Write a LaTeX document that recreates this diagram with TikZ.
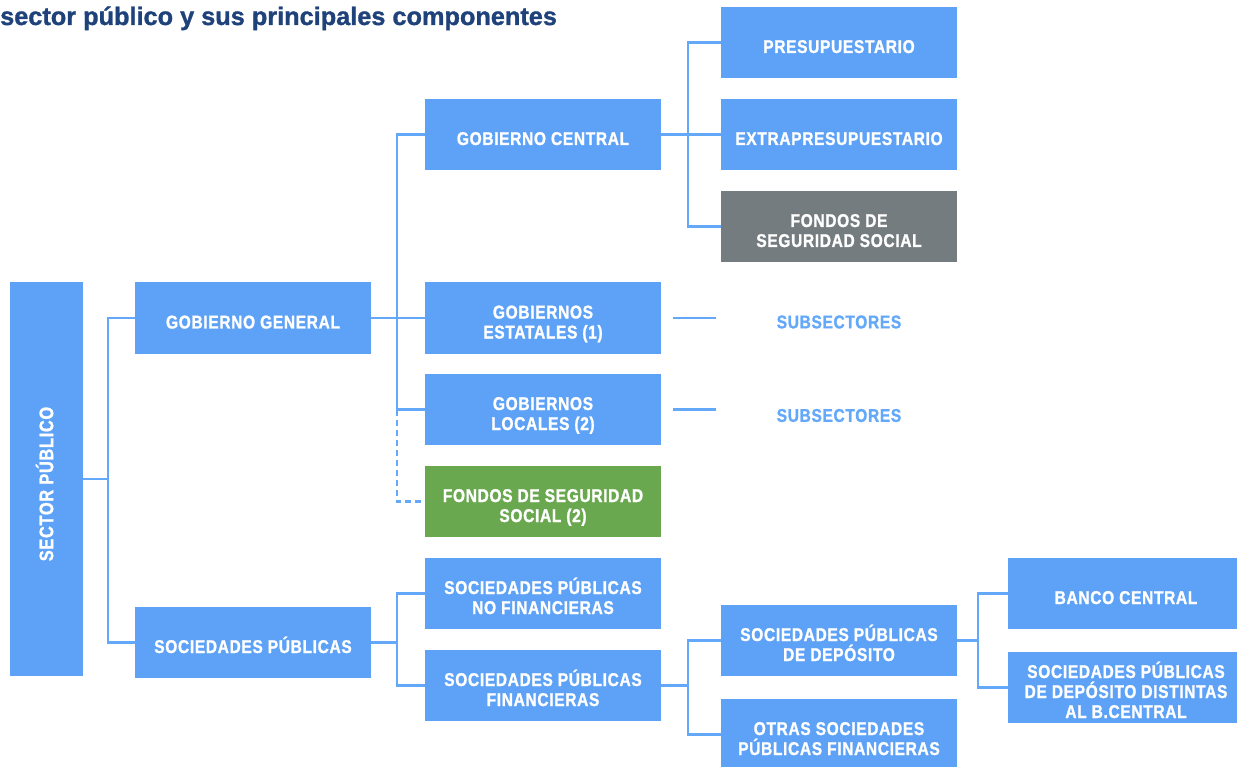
\documentclass[tikz,border=0pt]{standalone}
\usepackage{fontspec}
\setmainfont{Liberation Sans}[FakeStretch=0.84, LetterSpace=3.5, BoldFeatures={FakeBold=1.2}]
\newfontfamily\titlefont{Liberation Sans}[BoldFeatures={FakeBold=1.2}]
\newcommand\boxfont{\bfseries\fontsize{18.5}{20}\selectfont\lineskiplimit=-50pt}
\newcommand\secfont{\bfseries\fontsize{19.5}{20}\selectfont}
\newcommand\topstrut{\rule{0pt}{25pt}}
\newcommand\midstrut{\rule{0pt}{17pt}}
\newcommand\botstrut{\rule[-4pt]{0pt}{4pt}}
\definecolor{cblue}{RGB}{93,162,247}
\definecolor{lblue}{RGB}{100,168,250}
\definecolor{cgray}{RGB}{116,124,127}
\definecolor{cgreen}{RGB}{106,168,79}
\definecolor{ctitle}{RGB}{31,66,122}
\tikzset{
  box/.style={fill=cblue, text=white, font=\boxfont, minimum width=236, minimum height=71, inner sep=0, align=center},
  conn/.style={draw=lblue, line width=2.3},
  subtxt/.style={text=lblue, font=\boxfont, inner sep=0},
}
\begin{document}
\begin{tikzpicture}[x=1pt,y=-1pt]
\useasboundingbox (0,0) rectangle (1237,767);
\node[anchor=base west, inner sep=0, text=ctitle, font=\titlefont\bfseries\fontsize{25.3}{30}\selectfont] (title) at (0,25) {sector público y sus principales componentes};
% column 1
\node[box, font=\secfont, rotate=90, minimum width=394, minimum height=73] (sec) at (46.5,479) {\midstrut SECTOR PÚBLICO\botstrut\hspace{10pt}};
% column 2
\node[box] (gg) at (253,318) {\topstrut GOBIERNO GENERAL\botstrut};
\node[box] (sp) at (253,642.5) {\topstrut SOCIEDADES PÚBLICAS\botstrut};
% column 3
\node[box] (gc) at (543,134.5) {\topstrut GOBIERNO CENTRAL\botstrut};
\node[box] (ge) at (543,318) {\topstrut GOBIERNOS\\ESTATALES (1)\botstrut};
\node[box] (gl) at (543,409.5) {\topstrut GOBIERNOS\\LOCALES (2)\botstrut};
\node[box, fill=cgreen] (fss) at (543,501.5) {\topstrut FONDOS DE SEGURIDAD\\SOCIAL (2)\botstrut};
\node[box] (nf) at (543,593.5) {\topstrut SOCIEDADES PÚBLICAS\\NO FINANCIERAS\botstrut};
\node[box] (spf) at (543,685.5) {\topstrut SOCIEDADES PÚBLICAS\\FINANCIERAS\botstrut};
% column 4
\node[box] (pre) at (839,42.5) {\topstrut PRESUPUESTARIO\botstrut};
\node[box] (ext) at (839,134.5) {\topstrut EXTRAPRESUPUESTARIO\botstrut};
\node[box, fill=cgray] (fgs) at (839,226.5) {\topstrut FONDOS DE\\SEGURIDAD SOCIAL\botstrut};
\node[subtxt] (sub1) at (839,322) {SUBSECTORES};
\node[subtxt] (sub2) at (839,415.5) {SUBSECTORES};
\node[box] (spd) at (839,640.5) {\topstrut SOCIEDADES PÚBLICAS\\DE DEPÓSITO\botstrut};
\node[box] (otr) at (839,734.5) {\topstrut OTRAS SOCIEDADES\\PÚBLICAS FINANCIERAS\botstrut};
% column 5
\node[box] (bc) at (1126,593.5) {\topstrut BANCO CENTRAL\botstrut};
\node[box] (spdd) at (1126,687.5) {\topstrut SOCIEDADES PÚBLICAS\\DE DEPÓSITO DISTINTAS\\AL B.CENTRAL\botstrut};
% bus coordinates
\coordinate (b1) at (108,479);
\coordinate (b2) at (397,318);
\coordinate (b3) at (688,134.5);
\coordinate (b4) at (397,642.5);
\coordinate (b5) at (688,685.5);
\coordinate (b6) at (978,640.5);
% connectors
\draw[conn] (sec.south) -- (b1);
\draw[conn] (gg.west) -| (b1) |- (sp.west);
\draw[conn] (gg.east) -- (ge.west);
\draw[conn] (gc.west) -| (b2) |- (gl.west);
\draw[conn, dashed, dash pattern=on 6pt off 4pt] (gl.west -| b2) |- (fss.west);
\draw[conn] (gc.east) -- (ext.west);
\draw[conn] (pre.west) -| (b3) |- (fgs.west);
\coordinate (s1a) at ([xshift=12]ge.east);
\coordinate (s1b) at ([xshift=55]ge.east);
\coordinate (s2a) at ([xshift=12]gl.east);
\coordinate (s2b) at ([xshift=55]gl.east);
\draw[conn] (s1a) -- (s1b);
\draw[conn] (s2a) -- (s2b);
\draw[conn] (sp.east) -- (b4);
\draw[conn] (nf.west) -| (b4) |- (spf.west);
\draw[conn] (spf.east) -- (b5);
\draw[conn] (spd.west) -| (b5) |- (otr.west);
\draw[conn] (spd.east) -- (b6);
\draw[conn] (bc.west) -| (b6) |- (spdd.west);
\end{tikzpicture}
\end{document}
